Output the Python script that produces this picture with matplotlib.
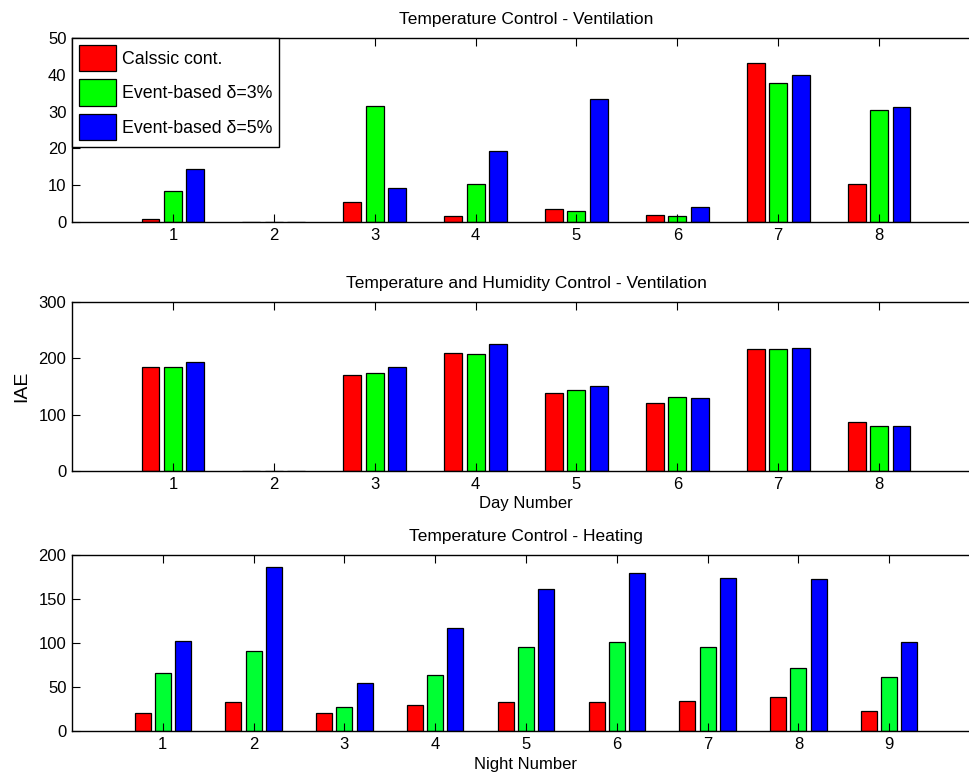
import numpy as np
import matplotlib
matplotlib.use('Agg')
import matplotlib.pyplot as plt

plt.rcParams['font.family'] = ['Liberation Sans', 'DejaVu Sans']

# IAE per day / night for the three controllers
days = [1, 2, 3, 4, 5, 6, 7, 8]
nights = [1, 2, 3, 4, 5, 6, 7, 8, 9]

vent_classic = [0.9, 0, 5.4, 1.5, 3.6, 2.0, 43.3, 10.3]
vent_ev3 = [8.5, 0, 31.5, 10.3, 2.9, 1.7, 37.7, 30.5]
vent_ev5 = [14.4, 0, 9.3, 19.3, 33.3, 4.2, 39.9, 31.2]

hum_classic = [184, 0, 170, 210, 139, 120, 216, 87]
hum_ev3 = [184, 0, 174, 207, 144, 131, 216, 79]
hum_ev5 = [194, 0, 184, 226, 150, 129, 218, 79]

heat_classic = [21, 33.5, 20, 30, 32.5, 33.5, 34, 39, 23]
heat_ev3 = [65.5, 90.5, 27, 63.5, 96, 101, 95, 72, 61.5]
heat_ev5 = [102, 186.5, 54.5, 117, 161.5, 179.5, 174, 173, 101]

labels = ['Calssic cont.', 'Event-based \u03b4=3%', 'Event-based \u03b4=5%']

fig = plt.figure(figsize=(9.69, 7.72), dpi=100)

W = 908 / 969.
ax1 = fig.add_axes([72 / 969., 1 - 222 / 772., W, (222 - 38) / 772.])
ax2 = fig.add_axes([72 / 969., 1 - 471 / 772., W, (471 - 302) / 772.])
ax3 = fig.add_axes([72 / 969., 1 - 731 / 772., W, (731 - 555) / 772.])

slot = 2. / 9.
bw = 0.8 * slot


def grouped(ax, x, series, colors):
    x = np.asarray(x, dtype=float)
    bars = []
    for k, (vals, c) in enumerate(zip(series, colors)):
        b = ax.bar(x + (k - 1) * slot, vals, bw, color=c, edgecolor='k',
                   linewidth=0.9)
        bars.append(b)
    return bars


def style(ax, xticks, xmax, ymax, ystep):
    ax.set_xlim(0, xmax)
    ax.set_ylim(0, ymax)
    ax.set_xticks(xticks)
    ax.set_yticks(np.arange(0, ymax + 1, ystep))
    ax.tick_params(direction='in', length=6, width=0.8, top=True, right=True,
                   labelsize=12, pad=4)
    for s in ax.spines.values():
        s.set_linewidth(1.0)


c3 = ['#ff0000', '#00ff00', '#0000ff']
bars = grouped(ax1, days, [vent_classic, vent_ev3, vent_ev5], c3)
style(ax1, days, 9, 50, 10)
ax1.set_title('Temperature Control - Ventilation', fontsize=12.5, pad=10)
leg = ax1.legend(bars, labels, loc='upper left', borderaxespad=0,
                 fontsize=12.8, handlelength=2.1, handleheight=1.9,
                 fancybox=False, edgecolor='k', framealpha=1,
                 handletextpad=0.3, borderpad=0.4, labelspacing=0.45)
leg.get_frame().set_linewidth(1.0)

grouped(ax2, days, [hum_classic, hum_ev3, hum_ev5], c3)
style(ax2, days, 9, 300, 100)
ax2.set_title('Temperature and Humidity Control - Ventilation',
              fontsize=12.5, pad=10)
ax2.set_ylabel('IAE', fontsize=14, labelpad=6)
ax2.set_xlabel('Day Number', fontsize=12, labelpad=3)

grouped(ax3, nights, [heat_classic, heat_ev3, heat_ev5],
        ['#ff0000', '#00ff33', '#0000ff'])
style(ax3, nights, 10, 200, 50)
ax3.set_title('Temperature Control - Heating', fontsize=12.5, pad=10)
ax3.set_xlabel('Night Number', fontsize=12, labelpad=4)

fig.savefig('out.png', dpi=100)
